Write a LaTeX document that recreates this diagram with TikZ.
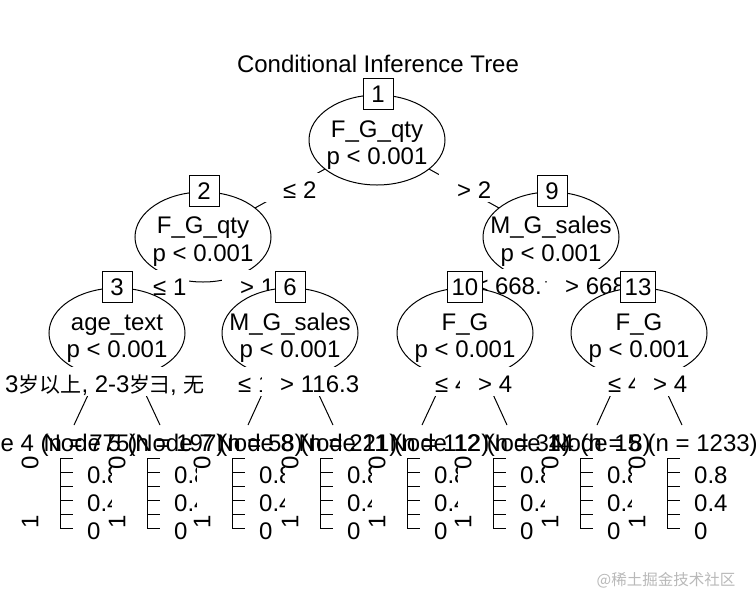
\documentclass[tikz,border=0pt]{standalone}
\usepackage{fontspec}
\setmainfont{Liberation Sans}
\newfontfamily\cjk{Noto Sans CJK SC}
\usetikzlibrary{shapes.geometric}
\pgfdeclarelayer{bg}
\pgfsetlayers{bg,main}
\definecolor{wmgray}{RGB}{185,185,185}
\newcommand\zh[1]{{\cjk\fontsize{21}{24}\selectfont #1}}
\newcommand\mylab[1]{\hspace*{18pt}#1\hspace*{3pt}}
\newcommand\mylabtight[1]{\hspace*{1pt}#1\hspace*{3pt}}
\tikzset{
  every node/.style={font=\fontsize{24}{28}\selectfont, inner sep=0pt},
  inode/.style={ellipse, draw, fill=white, minimum width=136pt, minimum height=90pt, inner sep=0pt, line width=1pt},
  nbox/.style={rectangle, draw, fill=white, minimum width=30pt, minimum height=31pt, inner xsep=4.5pt, inner ysep=0pt, line width=1pt},
  ntext/.style={anchor=base},
  elabel/.style={anchor=base west, fill=white, inner xsep=0pt, inner ysep=4pt, text height=21pt, text depth=0pt},
  tlabel/.style={anchor=base},
  pbg/.style={rectangle, fill=white, minimum width=85pt, minimum height=88pt, inner sep=0pt},
  rotlab/.style={rotate=90},
  axlab/.style={anchor=base west},
  axisline/.style={line width=1pt},
  edgeline/.style={line width=1pt},
}
\newcommand\drawpanel[2]{%
  \node[pbg] (pr#2) at ({#1+7.5},501) {};
  \node[rotlab] (pz#2) at ({#1-30},463) {0};
  \node[rotlab] (po#2) at ({#1-30},522) {1};
  \draw[axisline] (#1,458) -- (#1,528);
  \foreach \yy in {458,472,486,500,514,528} {\draw[axisline] (#1,\yy) -- ({#1+13},\yy);}
  \node[axlab] (pe#2) at ({#1+27},483) {0.8};
  \node[axlab] (pf#2) at ({#1+27},511) {0.4};
  \node[axlab] (pg#2) at ({#1+27},539) {0};
}
\begin{document}
\begin{tikzpicture}[x=1pt,y=-1pt]
\useasboundingbox (0,0) rectangle (756,606);
\coordinate (t4) at (74,425);
\coordinate (t5) at (160,425);
\coordinate (t7) at (248,425);
\coordinate (t8) at (333,425);
\coordinate (t11) at (422,425);
\coordinate (t12) at (507,425);
\coordinate (t14) at (597,425);
\coordinate (t15) at (682,425);

\node[ntext] (title) at (378,72) {Conditional Inference Tree};
% node 1
\node[inode] (e1) at (377,140) {};
\node[nbox] (b1) at (378,94) {1};
\node[ntext] (v1) at (377,137) {F\_G\_qty};
\node[ntext] (p1) at (377,164) {p < 0.001};
\node[elabel] (l2) at (265,198) {\mylab{≤ 2}};
% node 2
\node[inode] (e2) at (203,237) {};
\node[nbox] (b2) at (204,191) {2};
\node[ntext] (v2) at (203,233) {F\_G\_qty};
\node[ntext] (p2) at (203,261) {p < 0.001};
\node[elabel] (l3) at (135,295) {\mylab{≤ 1}};
% node 3
\node[inode] (e3) at (117,333) {};
\node[nbox] (b3) at (117,287) {3};
\node[ntext] (v3) at (117,330) {age\_text};
\node[ntext] (p3) at (117,357) {p < 0.001};
\node[elabel] (l4) at (-13,392) {\mylab{3\zh{岁以上}, 2-3\zh{岁}}};
\node[tlabel] (n4) at (47,451) {Node 4 (n = 775)};
\drawpanel{60}{4}
\node[elabel] (l5) at (148,392) {\mylabtight{\zh{彐}, \zh{无}}};
\node[tlabel] (n5) at (134,451) {Node 5 (n = 197)};
\drawpanel{147}{5}
\node[elabel] (l6) at (222,295) {\mylab{> 1}};
% node 6
\node[inode] (e6) at (290,333) {};
\node[nbox] (b6) at (290,287) {6};
\node[ntext] (v6) at (290,330) {M\_G\_sales};
\node[ntext] (p6) at (290,357) {p < 0.001};
\node[elabel] (l7) at (220,392) {\mylab{≤ 116.3}};
\node[tlabel] (n7) at (219,451) {Node 7 (n = 58)};
\drawpanel{232}{7}
\node[elabel] (l8) at (262,392) {\mylab{> 116.3}};
\node[tlabel] (n8) at (307,451) {Node 8 (n = 221)};
\drawpanel{320}{8}
\node[elabel] (l9) at (439,198) {\mylab{> 2}};
% node 9
\node[inode] (e9) at (551,237) {};
\node[nbox] (b9) at (552,191) {9};
\node[ntext] (v9) at (551,233) {M\_G\_sales};
\node[ntext] (p9) at (551,261) {p < 0.001};
\node[elabel] (l10) at (457,294) {\mylab{≤ 668.}};
% node 10
\node[inode] (e10) at (465,333) {};
\node[nbox] (b10) at (465,287) {10};
\node[ntext] (v10) at (465,330) {F\_G};
\node[ntext] (p10) at (465,357) {p < 0.001};
\node[elabel] (l11) at (417,392) {\mylab{≤ 4}};
\node[tlabel] (n11) at (394,451) {Node 11 (n = 112)};
\drawpanel{407}{11}
\node[elabel] (l12) at (460,392) {\mylab{> 4}};
\node[tlabel] (n12) at (480,451) {Node 12 (n = 34)};
\drawpanel{493}{12}
\node[elabel] (l13) at (547,294) {\mylab{> 668.}};
% node 13
\node[inode] (e13) at (639,333) {};
\node[nbox] (b13) at (638,287) {13};
\node[ntext] (v13) at (639,330) {F\_G};
\node[ntext] (p13) at (639,357) {p < 0.001};
\node[elabel] (l14) at (590,392) {\mylab{≤ 4}};
\node[tlabel] (n14) at (567,451) {Node 14 (n = 8)};
\drawpanel{580}{14}
\node[elabel] (l15) at (635,392) {\mylab{> 4}};
\node[tlabel] (n15) at (654,451) {Node 15 (n = 1233)};
\drawpanel{667}{15}

\node[anchor=base, text=wmgray, font=\cjk\fontsize{15.5}{18}\selectfont] (wm) at (666,585) {@稀土掘金技术社区};

\begin{pgfonlayer}{bg}
\fill[white] (0,0) rectangle (756,606);
\draw[edgeline] (e1.center) -- (e2.center);
\draw[edgeline] (e1.center) -- (e9.center);
\draw[edgeline] (e2.center) -- (e3.center);
\draw[edgeline] (e2.center) -- (e6.center);
\draw[edgeline] (e9.center) -- (e10.center);
\draw[edgeline] (e9.center) -- (e13.center);
\draw[edgeline] (e3.center) -- (t4);
\draw[edgeline] (e3.center) -- (t5);
\draw[edgeline] (e6.center) -- (t7);
\draw[edgeline] (e6.center) -- (t8);
\draw[edgeline] (e10.center) -- (t11);
\draw[edgeline] (e10.center) -- (t12);
\draw[edgeline] (e13.center) -- (t14);
\draw[edgeline] (e13.center) -- (t15);
\end{pgfonlayer}
\end{tikzpicture}
\end{document}
